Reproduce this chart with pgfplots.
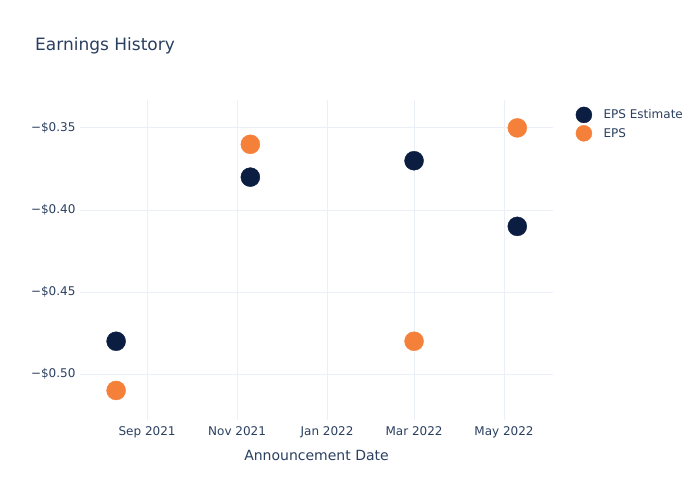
\documentclass[border=0pt]{standalone}
\usepackage{pgfplots}
\pgfplotsset{compat=1.18}
\usepackage{fontspec}
\setmainfont{DejaVu Sans}
\definecolor{txt}{HTML}{2A3F5F}
\definecolor{grd}{HTML}{EBF0F8}
\definecolor{navy}{HTML}{0B1E42}
\definecolor{orng}{HTML}{F58039}
\begin{document}
\begin{tikzpicture}
\path[use as bounding box] (0pt,0pt) rectangle (700pt,-500pt);
\node[anchor=west,text=txt,font=\fontsize{17}{20}\selectfont,inner sep=0] at (35pt,-46pt) {Earnings History};
\begin{axis}[
  at={(80pt,-420pt)}, anchor=south west,
  scale only axis, width=473pt, height=320pt,
  xmin=-167.5, xmax=153.2,
  ymin=-0.528, ymax=-0.333,
  axis line style={draw=none},
  tick style={draw=none},
  grid=major,
  major grid style={draw=grd, line width=0.8pt},
  xtick={-122,-61,0,59,120},
  xticklabels={Sep 2021,Nov 2021,Jan 2022,Mar 2022,May 2022},
  ytick={-0.50,-0.45,-0.40,-0.35},
  yticklabels={−\$0.50,−\$0.45,−\$0.40,−\$0.35},
  ticklabel style={text=txt, font=\fontsize{12}{14}\selectfont},
  xticklabel style={yshift=-3pt},
  yticklabel style={xshift=-1pt},
  xlabel={Announcement Date},
  xlabel style={text=txt, font=\fontsize{14}{16}\selectfont, yshift=-5pt},
  legend style={at={(1,1)}, anchor=north west, xshift=19.5pt, yshift=-4.5pt, draw=none, fill=none,
    font=\fontsize{12}{14}\selectfont, text=txt, row sep=2pt},
  legend cell align=left,
  clip=false,
]
\addplot[only marks, mark=*, mark size=9.5pt, mark options={draw=navy, fill=navy},
  legend image code/.code={\fill[navy] (0pt,0pt) circle (8pt); \path (17.5pt,0pt);}]
  coordinates {(-143,-0.48) (-52,-0.38) (59,-0.37) (129,-0.41)};
\addlegendentry{EPS Estimate}
\addplot[only marks, mark=*, mark size=9.5pt, mark options={draw=orng, fill=orng},
  legend image code/.code={\fill[orng] (0pt,0pt) circle (8pt); \path (17.5pt,0pt);}]
  coordinates {(-143,-0.51) (-52,-0.36) (59,-0.48) (129,-0.35)};
\addlegendentry{EPS}
\end{axis}
\end{tikzpicture}
\end{document}
